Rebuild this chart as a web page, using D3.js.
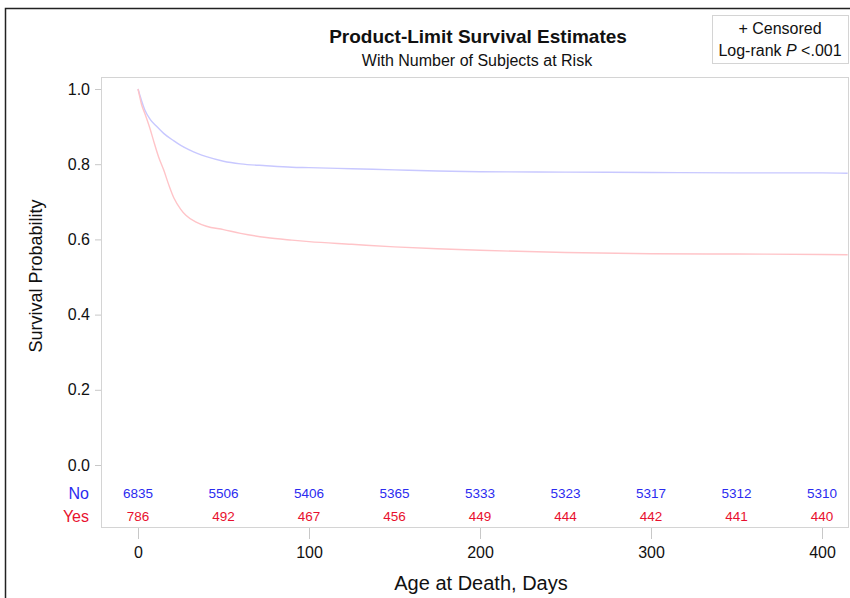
<!DOCTYPE html>
<html>
<head>
<meta charset="utf-8">
<script src="https://cdn.jsdelivr.net/npm/d3@7"></script>
<style>
  body { margin: 0; background: #fff; }
  svg { font-family: "Liberation Sans", Arial, sans-serif; }
</style>
</head>
<body>
<div id="chart-area"></div>
<script>
// survival curves (days, probability)
var daysNo  = [0, 1, 2, 4, 7, 11, 15, 21, 25, 30, 35, 40, 50, 60, 75, 90, 100, 125, 150, 175, 200, 250, 300, 350, 400, 415];
var survNo  = [1.0, 0.985, 0.97, 0.944, 0.92, 0.90, 0.882, 0.862, 0.85, 0.838, 0.828, 0.82, 0.808, 0.801, 0.796, 0.792, 0.791, 0.788, 0.785, 0.782, 0.780, 0.779, 0.778, 0.777, 0.777, 0.776];
var daysYes = [0, 1, 2, 4, 7, 9, 12, 15, 18, 21, 25, 28, 34, 40, 50, 60, 75, 90, 100, 125, 150, 175, 200, 250, 300, 350, 400, 415];
var survYes = [1.0, 0.98, 0.96, 0.935, 0.895, 0.864, 0.82, 0.785, 0.745, 0.71, 0.68, 0.664, 0.646, 0.635, 0.626, 0.616, 0.605, 0.598, 0.594, 0.587, 0.580, 0.575, 0.571, 0.565, 0.562, 0.561, 0.560, 0.559];

// number at risk
var riskDays = [0, 50, 100, 150, 200, 250, 300, 350, 400];
var riskNo   = [6835, 5506, 5406, 5365, 5333, 5323, 5317, 5312, 5310];
var riskYes  = [786, 492, 467, 456, 449, 444, 442, 441, 440];

var xTicks = [0, 100, 200, 300, 400];
var yTicks = [0, 0.2, 0.4, 0.6, 0.8, 1.0];

var width = 850, height = 598;
var frame = { left: 101, top: 77, right: 848, bottom: 527 };

var blue = "#2b2bf0", red = "#e8102e";

var svg = d3.select("#chart-area").append("svg")
    .attr("width", width)
    .attr("height", height);

// outer black frame
svg.append("rect")
    .attr("x", 5.5).attr("y", 8.5)
    .attr("width", 860).attr("height", 600)
    .attr("fill", "none")
    .attr("stroke", "#222")
    .attr("stroke-width", 1.5);

var x = d3.scaleLinear().domain([0, 400]).range([138, 822]);
var y = d3.scaleLinear().domain([0, 1]).range([465, 89]);

// plot frame
svg.append("rect")
    .attr("x", frame.left + 0.5).attr("y", frame.top + 0.5)
    .attr("width", frame.right - frame.left)
    .attr("height", frame.bottom - frame.top)
    .attr("fill", "none")
    .attr("stroke", "#d4d4d4");

// y axis
var yAxis = svg.append("g")
    .attr("class", "axis axis--y")
    .attr("transform", "translate(" + frame.left + ",0)")
    .call(d3.axisLeft(y).tickValues(yTicks).tickFormat(d3.format(".1f")).tickSize(6).tickPadding(5));
yAxis.select(".domain").remove();
yAxis.selectAll("line").attr("stroke", "#c8c8c8");
yAxis.selectAll("text")
    .attr("font-size", 16)
    .attr("fill", "#111")
    .attr("font-family", "Liberation Sans, Arial, sans-serif");

// x axis
var xAxis = svg.append("g")
    .attr("class", "axis axis--x")
    .attr("transform", "translate(0," + (frame.bottom + 1) + ")")
    .call(d3.axisBottom(x).tickValues(xTicks).tickSize(11).tickPadding(8));
xAxis.select(".domain").remove();
xAxis.selectAll("line").attr("stroke", "#c8c8c8");
xAxis.selectAll("text")
    .attr("font-size", 16)
    .attr("fill", "#111")
    .attr("font-family", "Liberation Sans, Arial, sans-serif");

// curves
var line = d3.line()
    .x(function(d) { return x(d[0]); })
    .y(function(d) { return y(d[1]); })
    .curve(d3.curveMonotoneX);

svg.append("path")
    .datum(daysNo.map(function(d, i) { return [d, survNo[i]]; }))
    .attr("d", line)
    .attr("fill", "none")
    .attr("stroke", "#c8c8ff")
    .attr("stroke-width", 1.4);

svg.append("path")
    .datum(daysYes.map(function(d, i) { return [d, survYes[i]]; }))
    .attr("d", line)
    .attr("fill", "none")
    .attr("stroke", "#ffc4c8")
    .attr("stroke-width", 1.4);

// at-risk table
var rows = [
    { name: "No", vals: riskNo, color: blue, y: 493 },
    { name: "Yes", vals: riskYes, color: red, y: 516 }
];
rows.forEach(function(row) {
    svg.append("text")
        .attr("x", 89).attr("y", row.y)
        .attr("dy", "0.35em")
        .attr("text-anchor", "end")
        .attr("font-size", 16)
        .attr("fill", row.color)
        .text(row.name);
    svg.selectAll(".risk-" + row.name)
        .data(row.vals)
        .enter().append("text")
        .attr("x", function(d, i) { return x(riskDays[i]); })
        .attr("y", row.y)
        .attr("dy", "0.35em")
        .attr("text-anchor", "middle")
        .attr("font-size", 13.5)
        .attr("fill", row.color)
        .text(function(d) { return d; });
});

// titles
svg.append("text")
    .attr("x", 478).attr("y", 43)
    .attr("text-anchor", "middle")
    .attr("font-size", 19)
    .attr("font-weight", "bold")
    .attr("fill", "#111")
    .text("Product-Limit Survival Estimates");

svg.append("text")
    .attr("x", 477).attr("y", 66)
    .attr("text-anchor", "middle")
    .attr("font-size", 16)
    .attr("fill", "#111")
    .text("With Number of Subjects at Risk");

svg.append("text")
    .attr("transform", "translate(42,276) rotate(-90)")
    .attr("text-anchor", "middle")
    .attr("font-size", 18)
    .attr("fill", "#111")
    .text("Survival Probability");

svg.append("text")
    .attr("x", 481).attr("y", 590)
    .attr("text-anchor", "middle")
    .attr("font-size", 20)
    .attr("fill", "#111")
    .text("Age at Death, Days");

// legend box
var legend = svg.append("g").attr("transform", "translate(712,15)");
legend.append("rect")
    .attr("x", 0.5).attr("y", 0.5)
    .attr("width", 136).attr("height", 48)
    .attr("fill", "#fff")
    .attr("stroke", "#d4d4d4");
legend.append("text")
    .attr("x", 68).attr("y", 19)
    .attr("text-anchor", "middle")
    .attr("font-size", 16)
    .attr("fill", "#111")
    .text("+ Censored");
var lr = legend.append("text")
    .attr("x", 68).attr("y", 41)
    .attr("text-anchor", "middle")
    .attr("font-size", 16)
    .attr("fill", "#111");
lr.append("tspan").text("Log-rank ");
lr.append("tspan").attr("font-style", "italic").text("P");
lr.append("tspan").text(" <.001");
</script>
</body>
</html>
